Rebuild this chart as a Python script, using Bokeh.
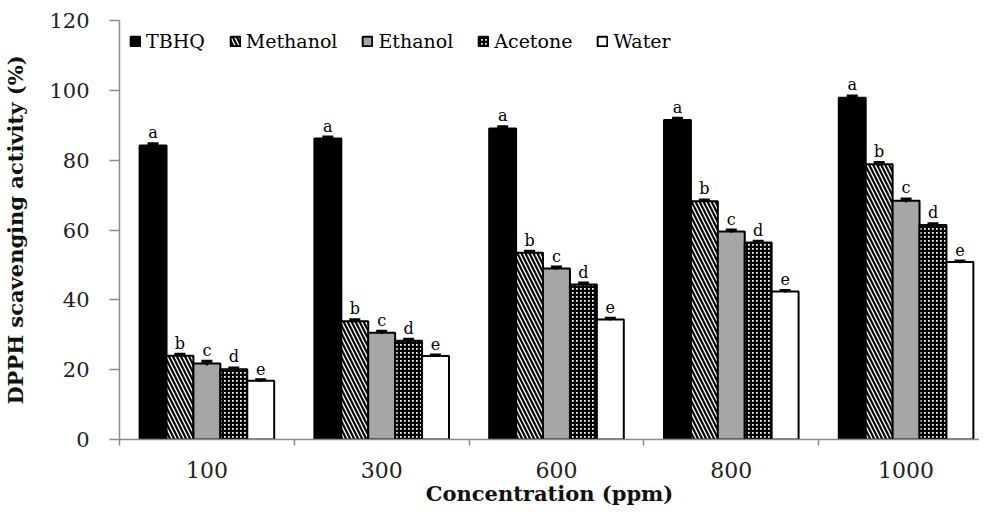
from bokeh.plotting import figure
from bokeh.models import (Range1d, FixedTicker, Whisker, ColumnDataSource, Legend,
                          LegendItem, TeeHead)
from bokeh.core.properties import value
from bokeh.embed import file_html
from bokeh.resources import INLINE

# ---- data ----
concentrations = ["100", "300", "600", "800", "1000"]
series_names = ["TBHQ", "Methanol", "Ethanol", "Acetone", "Water"]
tbhq = [84.2, 86.2, 89.1, 91.5, 97.9]
methanol = [24.0, 33.9, 53.5, 68.2, 78.8]
ethanol = [21.8, 30.6, 49.0, 59.6, 68.4]
acetone = [20.1, 28.3, 44.4, 56.4, 61.4]
water = [16.8, 23.9, 34.4, 42.4, 50.8]
err_tbhq = [0.5, 0.4, 0.5, 0.5, 0.5]
err_methanol = [0.4, 0.4, 0.4, 0.4, 0.5]
err_ethanol = [0.6, 0.4, 0.4, 0.4, 0.5]
err_acetone = [0.4, 0.4, 0.4, 0.4, 0.4]
err_water = [0.3, 0.3, 0.3, 0.3, 0.3]
sig_letters = ["a", "b", "c", "d", "e"]
y_ticks = [0, 20, 40, 60, 80, 100, 120]

values = [tbhq, methanol, ethanol, acetone, water]
errors = [err_tbhq, err_methanol, err_ethanol, err_acetone, err_water]

# ---- styles ----
FONT = "DejaVu Serif"
AXIS_GREY = "#8a8a8a"
styles = [
    dict(fill_color="black", hatch_pattern=" ", hatch_color="black"),
    dict(fill_color="white", hatch_pattern="\\", hatch_color="black", hatch_scale=8, hatch_weight=2.2),
    dict(fill_color="#a6a6a6", hatch_pattern=" ", hatch_color="black"),
    dict(fill_color="white", hatch_pattern="+", hatch_color="black", hatch_scale=4, hatch_weight=2.6),
    dict(fill_color="white", hatch_pattern=" ", hatch_color="black"),
]

BAR_W = 0.154
n_groups = len(concentrations)

p = figure(width=979, height=508, output_backend="svg", toolbar_location=None,
           x_range=Range1d(0, 4.92), y_range=Range1d(0, 120),
           min_border_left=118, min_border_right=0, min_border_top=20, min_border_bottom=69)
p.outline_line_color = None
p.xgrid.visible = False
p.ygrid.visible = False
p.background_fill_color = "white"
p.border_fill_color = "white"

legend_items = []
for j, name in enumerate(series_names):
    xs = [g + 0.5 + (j - 2) * BAR_W for g in range(n_groups)]
    vals = values[j]
    errs = errors[j]
    src = ColumnDataSource(dict(
        x=xs, top=vals,
        upper=[v + e for v, e in zip(vals, errs)],
        lower=[v - e for v, e in zip(vals, errs)],
        letter=[sig_letters[j]] * n_groups,
    ))
    st = styles[j]
    r = p.vbar(x="x", top="top", bottom=0, width=BAR_W, source=src,
               line_color="black", line_width=2, **st)
    legend_items.append(LegendItem(label=name, renderers=[r]))
    w = Whisker(base="x", upper="upper", lower="lower", source=src, dimension="height",
                line_color="black", line_width=2, level="overlay",
                upper_head=TeeHead(size=11, line_width=3, line_color="black"),
                lower_head=None)
    p.add_layout(w)
    p.text(x="x", y="upper", text="letter", source=src, text_font=value(FONT),
           text_font_size="16px", text_align="center", text_baseline="alphabetic",
           y_offset=-11, text_color="black")

legend = Legend(items=legend_items, orientation="horizontal", location="top_left",
                margin=10, padding=2, spacing=24, label_standoff=5,
                glyph_width=12, glyph_height=12,
                label_text_font=FONT, label_text_font_size="19px",
                label_text_color="black", border_line_color=None,
                background_fill_alpha=0)
p.add_layout(legend)

# x axis
xa = p.xaxis[0]
xa.ticker = FixedTicker(ticks=[g + 0.5 for g in range(n_groups)],
                        minor_ticks=list(range(n_groups + 1)))
xa.major_label_overrides = {g + 0.5: c for g, c in enumerate(concentrations)}
xa.major_tick_out = 0
xa.major_tick_in = 0
xa.minor_tick_out = 6
xa.minor_tick_in = 0
xa.minor_tick_line_color = AXIS_GREY
xa.minor_tick_line_width = 1.5
xa.axis_line_color = AXIS_GREY
xa.axis_line_width = 1.5
xa.major_label_text_font = FONT
xa.major_label_text_font_size = "22px"
xa.major_label_text_color = "#222222"
xa.major_label_standoff = 16
xa.axis_label = "Concentration (ppm)"
xa.axis_label_text_font = FONT
xa.axis_label_text_font_size = "21px"
xa.axis_label_text_font_style = "bold"
xa.axis_label_text_color = "#111111"
xa.axis_label_standoff = 0

# y axis
ya = p.yaxis[0]
ya.ticker = FixedTicker(ticks=y_ticks, minor_ticks=[])
ya.major_tick_out = 10
ya.major_tick_in = 0
ya.major_tick_line_color = AXIS_GREY
ya.major_tick_line_width = 1.5
ya.axis_line_color = AXIS_GREY
ya.axis_line_width = 1.5
ya.major_label_text_font = FONT
ya.major_label_text_font_size = "21px"
ya.major_label_text_color = "#222222"
ya.major_label_standoff = 20
ya.axis_label = "DPPH scavenging activity (%)"
ya.axis_label_text_font = FONT
ya.axis_label_text_font_size = "21px"
ya.axis_label_text_font_style = "bold"
ya.axis_label_text_color = "#111111"
ya.axis_label_standoff = 18

open("out.html", "w").write(file_html(p, INLINE))
